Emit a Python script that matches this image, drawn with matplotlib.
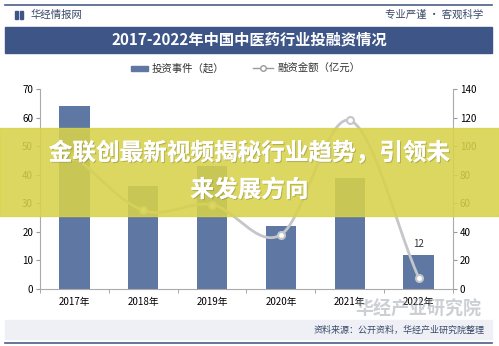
#!/usr/bin/env python3
"""
2017-2022 China TCM industry investment chart
Bars = investment events, smooth line = financing amount
"""

import numpy as np
import matplotlib
matplotlib.use("Agg")
import matplotlib.pyplot as plt
import matplotlib.patheffects as pe
from matplotlib.patches import Rectangle
from matplotlib.lines import Line2D

plt.rcParams['font.family'] = ['Noto Sans CJK SC', 'DejaVu Sans']

# data
years = ['2017年', '2018年', '2019年', '2020年', '2021年', '2022年']
events = [64, 36, 43, 22, 39, 12]          # 投资事件（起）
amount = [93, 55, 59, 38, 118, 8]          # 融资金额（亿元）
left_ticks = [0, 10, 20, 30, 40, 50, 60, 70]
right_ticks = [0, 20, 40, 60, 80, 100, 120, 140]

BAR = '#5f77a3'
NAVY = '#3d5587'
LINE = '#c4c6ca'


def smooth(xs, ys, n=30):
    """Catmull-Rom curve through the points (drawing only)"""
    xs = np.asarray(xs, float)
    ys = np.asarray(ys, float)
    px = np.concatenate([[2 * xs[0] - xs[1]], xs, [2 * xs[-1] - xs[-2]]])
    py = np.concatenate([[2 * ys[0] - ys[1]], ys, [2 * ys[-1] - ys[-2]]])
    outx, outy = [], []
    t = np.linspace(0, 1, n)
    for i in range(1, len(px) - 2):
        for p, out in ((px, outx), (py, outy)):
            p0, p1, p2, p3 = p[i - 1], p[i], p[i + 1], p[i + 2]
            out.extend(0.5 * (2 * p1 + (-p0 + p2) * t
                              + (2 * p0 - 5 * p1 + 4 * p2 - p3) * t ** 2
                              + (-p0 + 3 * p1 - 3 * p2 + p3) * t ** 3))
    return np.array(outx), np.array(outy)


fig = plt.figure(figsize=(4.99, 3.46), dpi=100)
W, H = 499, 346


def fx(px):
    return px / W


def fy(py):
    return 1 - py / H


# header
fig.add_artist(Line2D([fx(5), fx(492)], [fy(5), fy(5)], color='#4a5f86', lw=1.2))
fig.add_artist(Rectangle((fx(15), fy(19)), fx(3), 8 / H, color=NAVY))
fig.add_artist(Rectangle((fx(20), fy(19)), fx(3), 8 / H, color=NAVY))
fig.text(fx(31), fy(15), '华经情报网', fontsize=7.5, color='#3a4a6a', va='center')
fig.text(fx(483), fy(15), '专业严谨 • 客观科学', fontsize=7.5, color='#3a4a6a',
         va='center', ha='right')
fig.add_artist(Rectangle((fx(5), fy(53)), fx(487), 26 / H, color=NAVY))
fig.text(0.5, fy(40), '2017-2022年中国中医药行业投融资情况', fontsize=11,
         color='white', ha='center', va='center', fontweight='bold')

# chart
ax = fig.add_axes([fx(40), fy(289), fx(413), 200 / H])
x = np.arange(len(years))
ax.bar(x, events, width=0.44, color=BAR, zorder=2)
ax.text(x[-1], events[-1] + 2, str(events[-1]), ha='center', va='bottom',
        fontsize=7, color='#333333')
ax.set_xlim(-0.5, len(years) - 0.5)
ax.set_ylim(0, 70)
ax.set_yticks(left_ticks)
ax.set_xticks(x)
ax.set_xticklabels(years)
ax.set_xticks(np.arange(len(years) + 1) - 0.5, minor=True)
ax.tick_params(axis='x', which='major', length=0, labelsize=7, pad=6)
ax.tick_params(axis='x', which='minor', length=3, color='#999999')
ax.tick_params(axis='y', length=3, color='#999999', labelsize=7, pad=2)
for s in ['top', 'right']:
    ax.spines[s].set_visible(False)
for s in ['left', 'bottom']:
    ax.spines[s].set_color('#aaaaaa')

ax2 = ax.twinx()
ax2.set_ylim(0, 140)
ax2.set_yticks(right_ticks)
ax2.tick_params(axis='y', length=3, color='#999999', labelsize=7, pad=2)
for s in ['top', 'left', 'bottom']:
    ax2.spines[s].set_visible(False)
ax2.spines['right'].set_color('#aaaaaa')
sx, sy = smooth(x, amount)
ax2.plot(sx, sy, color=LINE, lw=2, zorder=3)
ax2.plot(x, amount, 'o', ms=5, mfc='white', mec=LINE, mew=1.5, zorder=4)

# legend
fig.add_artist(Rectangle((fx(131), fy(71)), fx(17), 5 / H, color=BAR))
fig.text(fx(152), fy(68), '投资事件（起）', fontsize=7.5, color='#333333', va='center')
fig.add_artist(Line2D([fx(253), fx(273)], [fy(68), fy(68)], color='#999999', lw=1))
fig.add_artist(Line2D([fx(263)], [fy(68)], marker='o', ms=4, mfc='white',
                      mec='#999999', mew=1))
fig.text(fx(277), fy(68), '融资金额（亿元）', fontsize=7.5, color='#333333', va='center')

# footer
fig.add_artist(Rectangle((fx(5), fy(339)), fx(487), 19 / H, color='#eef0f6'))
fig.text(fx(418), fy(309), '华经产业研究院', fontsize=13, color='#9aa0a8',
         alpha=0.5, ha='center', va='center', fontweight='bold')
fig.text(fx(485), fy(330), '资料来源：公开资料，华经产业研究院整理', fontsize=6.5,
         color='#3a4a6a', ha='right', va='center')
fig.add_artist(Line2D([fx(5), fx(492)], [fy(343), fy(343)], color='#4a5f86', lw=1.2))

# yellow banner across the middle
fig.add_artist(Rectangle((0, fy(216)), 1, 88 / H, color='#d8d24a', alpha=0.88,
                         zorder=10))
shadow = [pe.withSimplePatchShadow(offset=(0.8, -0.8), shadow_rgbFace='#777744',
                                   alpha=0.4), pe.Normal()]
fig.text(0.5, fy(153), '金联创最新视频揭秘行业趋势，引领未', fontsize=17,
         color='white', ha='center', va='center', fontweight='bold', zorder=11,
         path_effects=shadow)
fig.text(0.5, fy(190), '来发展方向', fontsize=17,
         color='white', ha='center', va='center', fontweight='bold', zorder=11,
         path_effects=shadow)

fig.savefig('out.png', dpi=100)
